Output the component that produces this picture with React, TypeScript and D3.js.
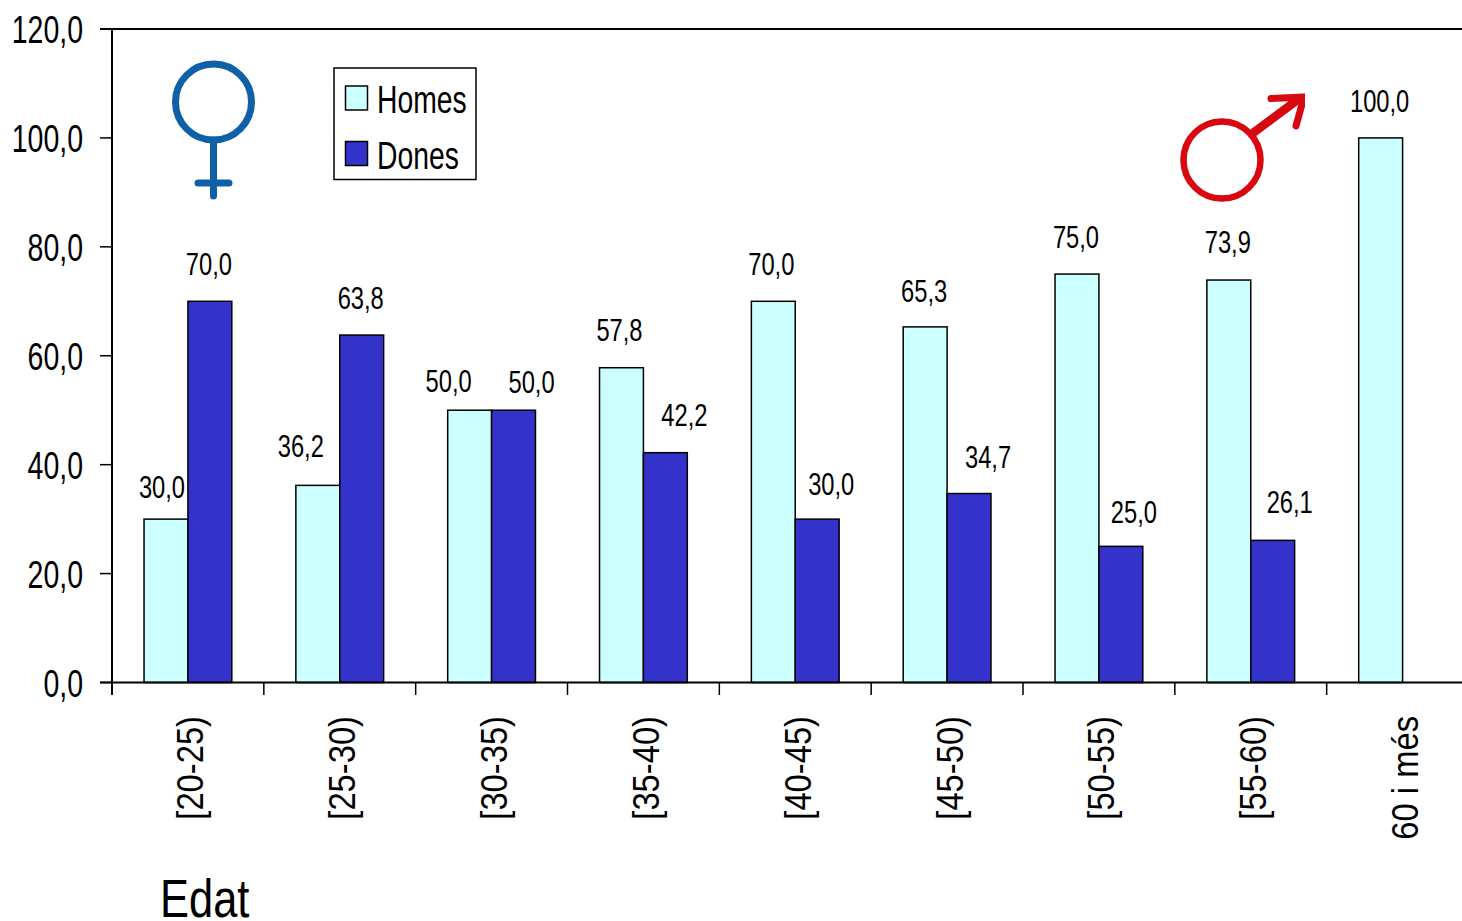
import React from "react";
import * as d3 from "d3";

const categories = ["[20-25)", "[25-30)", "[30-35)", "[35-40)", "[40-45)", "[45-50)", "[50-55)", "[55-60)", "60 i més"];
const seriesNames = ["Homes", "Dones"];
const homes: (number | null)[] = [30.0, 36.2, 50.0, 57.8, 70.0, 65.3, 75.0, 73.9, 100.0];
const dones: (number | null)[] = [70.0, 63.8, 50.0, 42.2, 30.0, 34.7, 25.0, 26.1, null];
const yTicks = [0, 20, 40, 60, 80, 100, 120];
const axisTitle = "Edat";

// manual label placement as in the source chart (px from the bar's centre)
const homesLabelNudge = [-4, -17, -21, -2, -2, -1, -1, -1, -1];
const donesLabelNudge = [-1, -1, 18, 19, 14, 19, 13, 17, 0];
const homesLabelLift = [32, 39, 29, 38, 37, 36, 37, 38, 37];
const donesLabelLift = [37, 37, 28, 38, 35, 37, 34, 38, 0];

const colors: Record<string, string> = { Homes: "#CCFFFF", Dones: "#3333CC" };
const font = "'Liberation Sans', Arial, sans-serif";
const fmt = (v: number) => v.toFixed(1).replace(".", ",");

function T({ x, y, size, sx = 0.8, anchor = "start", rotate = 0, children }: any) {
  return (
    <text
      transform={`translate(${x},${y}) rotate(${rotate}) scale(${sx},1)`}
      fontFamily={font}
      fontSize={size}
      textAnchor={anchor}
      fill="#000"
    >
      {children}
    </text>
  );
}

export default function App() {
  const y = d3.scaleLinear().domain([0, 120]).range([682.5, 29]);
  const x0 = d3.scaleBand().domain(categories).range([112, 1478.5]);
  const x1 = d3.scaleBand().domain(seriesNames).range([0, x0.bandwidth()]).paddingInner(0).paddingOuter(0.73);
  const values: Record<string, (number | null)[]> = { Homes: homes, Dones: dones };
  const nudges: Record<string, number[]> = { Homes: homesLabelNudge, Dones: donesLabelNudge };
  const lifts: Record<string, number[]> = { Homes: homesLabelLift, Dones: donesLabelLift };
  const bw = x1.bandwidth();

  return (
    <svg
      width={1462}
      height={921}
      viewBox="0 0 1462 921"
      style={{ position: "absolute", left: 0, top: 0, background: "#fff", display: "block" }}
    >
      {/* bars */}
      {seriesNames.map((s) =>
        categories.map((c, i) => {
          const v = values[s][i];
          if (v == null) return null;
          return (
            <rect
              key={s + c}
              x={(x0(c) as number) + (x1(s) as number)}
              y={y(v)}
              width={bw}
              height={y(0) - y(v)}
              fill={colors[s]}
              stroke="#000"
              strokeWidth={1.5}
            />
          );
        })
      )}

      {/* axes */}
      <line x1={100} x2={1462} y1={y(120)} y2={y(120)} stroke="#000" strokeWidth={2} />
      <line x1={112} x2={112} y1={y(120)} y2={695} stroke="#000" strokeWidth={2} />
      <line x1={100} x2={1462} y1={y(0)} y2={y(0)} stroke="#000" strokeWidth={2} />
      {yTicks.map((t) => (
        <g key={t}>
          <line x1={100} x2={112} y1={y(t)} y2={y(t)} stroke="#000" strokeWidth={1.5} />
          <T x={83} y={y(t) + 14} size={38} sx={0.75} anchor="end">
            {fmt(t)}
          </T>
        </g>
      ))}
      {categories.map((c) => (
        <line key={c} x1={x0(c)} x2={x0(c)} y1={y(0)} y2={695} stroke="#000" strokeWidth={1.5} />
      ))}

      {/* category labels */}
      {categories.map((c) => (
        <T
          key={c}
          x={(x0(c) as number) + x0.bandwidth() / 2 + 15.5}
          y={716}
          size={37}
          sx={0.885}
          anchor="end"
          rotate={-90}
        >
          {c}
        </T>
      ))}

      {/* value labels */}
      {seriesNames.map((s) =>
        categories.map((c, i) => {
          const v = values[s][i];
          if (v == null) return null;
          return (
            <T
              key={s + c}
              x={(x0(c) as number) + (x1(s) as number) + bw / 2 + nudges[s][i]}
              y={y(v) - lifts[s][i] + 11}
              size={31}
              sx={0.765}
              anchor="middle"
            >
              {fmt(v)}
            </T>
          );
        })
      )}

      {/* legend */}
      <rect x={334} y={68} width={142} height={111.5} fill="#fff" stroke="#000" strokeWidth={1.5} />
      {seriesNames.map((s, i) => (
        <g key={s}>
          <rect x={345.5} y={86 + i * 55.5} width={22} height={24} fill={colors[s]} stroke="#000" strokeWidth={1.5} />
          <T x={377} y={113 + i * 55.5} size={38} sx={0.745}>
            {s}
          </T>
        </g>
      ))}

      <T x={160} y={917} size={53} sx={0.82}>
        {axisTitle}
      </T>

      {/* female symbol */}
      <g fill="none" stroke="#1060A8" strokeWidth={7} strokeLinecap="round">
        <clipPath id="venus">
          <rect x={165} y={55} width={90} height={150} />
        </clipPath>
        <g clipPath="url(#venus)">
          <circle cx={213.5} cy={102} r={38} />
          <path d="M213.5 140V196M198 183H229" />
        </g>
      </g>

      {/* male symbol */}
      <g fill="none" stroke="#D80810" strokeWidth={6.5} strokeLinecap="round" strokeLinejoin="round">
        <clipPath id="mars">
          <rect x={1170} y={92} width={135} height={115} />
        </clipPath>
        <g clipPath="url(#mars)">
          <circle cx={1222} cy={160} r={38.5} />
          <path d="M1253 133L1300 98" strokeWidth={8.5} strokeLinecap="butt" />
          <path d="M1271 98.5L1304 97L1296 126" strokeWidth={7} />
        </g>
      </g>
    </svg>
  );
}
